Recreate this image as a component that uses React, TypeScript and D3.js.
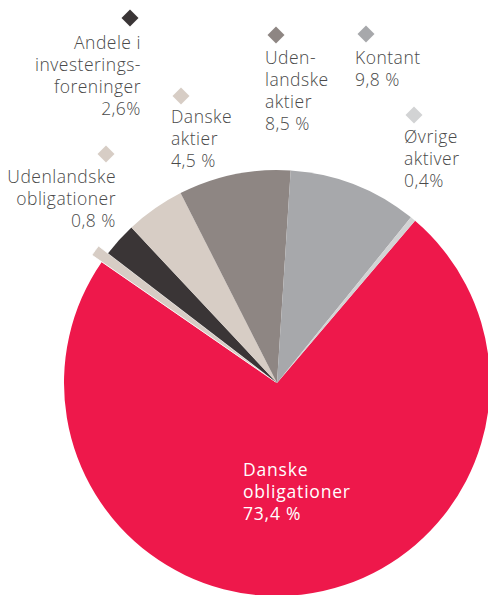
import React from "react";
import * as d3 from "d3";

const categories = [
  "Danske obligationer",
  "Udenlandske obligationer",
  "Andele i investeringsforeninger",
  "Danske aktier",
  "Udenlandske aktier",
  "Kontant",
  "Øvrige aktiver",
];
const values = [73.4, 0.8, 2.6, 4.5, 8.5, 9.8, 0.4];
const colors = ["#EE184B", "#D7CDC5", "#3A3536", "#D7CDC5", "#8E8683", "#A7A8AB", "#D2D3D4"];
const labelLines = [
  ["Danske", "obligationer", "73,4 %"],
  ["Udenlandske", "obligationer", "0,8 %"],
  ["Andele i", "investerings-", "foreninger", "2,6%"],
  ["Danske", "aktier", "4,5 %"],
  ["Uden-", "landske", "aktier", "8,5 %"],
  ["Kontant", "9,8 %"],
  ["Øvrige", "aktiver", "0,4%"],
];

const W = 488;
const H = 595;
const cx = 277;
const cy = 383;
const R = 213;
const startDeg = 40.4;

const labelLayout = [
  { dx: 0, dy: 0, tx: 243, ty: 476, anchor: "start", white: true, diamond: false },
  { dx: 106, dy: 154, tx: 116, ty: 183, anchor: "end", white: false, diamond: true },
  { dx: 130, dy: 18, tx: 141, ty: 49, anchor: "end", white: false, diamond: true },
  { dx: 181, dy: 96, tx: 171, ty: 123, anchor: "start", white: false, diamond: true },
  { dx: 276, dy: 35, tx: 265, ty: 64, anchor: "start", white: false, diamond: true },
  { dx: 366, dy: 34, tx: 355, ty: 64, anchor: "start", white: false, diamond: true },
  { dx: 414, dy: 115, tx: 404, ty: 143, anchor: "start", white: false, diamond: true },
];

export default function App() {
  const pie = d3
    .pie<number>()
    .sort(null)
    .startAngle((startDeg * Math.PI) / 180)
    .endAngle((startDeg * Math.PI) / 180 + Math.PI * 2);
  const arcs = pie(values);
  const arc = d3.arc<d3.PieArcDatum<number>>().innerRadius(0).outerRadius(R);
  const arcBig = d3.arc<d3.PieArcDatum<number>>().innerRadius(0).outerRadius(R + 10);

  return (
    <svg
      width={W}
      height={H}
      style={{ position: "absolute", left: 0, top: 0, background: "#fff" }}
      fontFamily="'Open Sans', 'Noto Sans', sans-serif"
    >
      <g transform={`translate(${cx},${cy})`}>
        {arcs.map((a, i) => {
          if (i === 1) {
            const mid = (a.startAngle + a.endAngle) / 2;
            const off = 2;
            return (
              <path
                key={i}
                d={arcBig(a) || ""}
                fill={colors[i]}
                transform={`translate(${Math.sin(mid) * off},${-Math.cos(mid) * off})`}
                stroke="#fff"
                strokeWidth={0.8}
              />
            );
          }
          return <path key={i} d={arc(a) || ""} fill={colors[i]} />;
        })}
      </g>
      {labelLayout.map((l, i) => (
        <g key={i}>
          {l.diamond && (
            <rect
              x={-6}
              y={-6}
              width={12}
              height={12}
              fill={colors[i]}
              transform={`translate(${l.dx},${l.dy}) rotate(45)`}
            />
          )}
          <text
            x={l.tx}
            y={l.ty}
            textAnchor={l.anchor}
            fontSize={17.5}
            fontWeight={l.white ? 400 : 300}
            letterSpacing={l.white ? 0.8 : 0.5}
            fill={l.white ? "#fff" : "#4a4a4a"}
          >
            {labelLines[i].map((line, j) => (
              <tspan key={j} x={l.tx} dy={j === 0 ? 0 : 22}>
                {line}
              </tspan>
            ))}
          </text>
        </g>
      ))}
    </svg>
  );
}
